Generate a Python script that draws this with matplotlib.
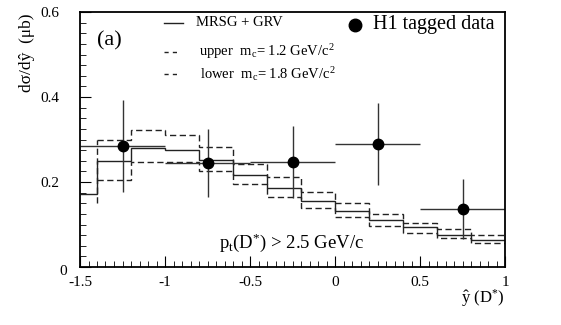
import numpy as np
import matplotlib
matplotlib.use("Agg")
import matplotlib.pyplot as plt
from matplotlib.ticker import MultipleLocator
from matplotlib.transforms import ScaledTranslation

plt.rcParams['font.family'] = ['Liberation Serif', 'DejaVu Serif']
plt.rcParams['mathtext.fontset'] = 'custom'
plt.rcParams['mathtext.rm'] = 'Liberation Serif'
plt.rcParams['mathtext.it'] = 'Liberation Serif:italic'
plt.rcParams['mathtext.bf'] = 'Liberation Serif:bold'

# ---- data ----
bin_edges = [-1.5, -1.4, -1.2, -1.0, -0.8, -0.6, -0.4, -0.2, 0.0, 0.2, 0.4, 0.6, 0.8, 1.0]
central = [0.172, 0.249, 0.281, 0.276, 0.251, 0.217, 0.186, 0.156, 0.132, 0.110, 0.093, 0.076, 0.063]

dash_edges = [-1.4, -1.2, -1.0, -0.8, -0.6, -0.4, -0.2, 0.0, 0.2, 0.4, 0.6, 0.8, 1.0]
upper = [0.300, 0.323, 0.310, 0.282, 0.243, 0.211, 0.177, 0.151, 0.125, 0.103, 0.089, 0.075]
lower = [0.204, 0.247, 0.247, 0.225, 0.196, 0.165, 0.140, 0.117, 0.096, 0.080, 0.068, 0.057]
lower_start = 0.150

data_x = [-1.25, -0.75, -0.25, 0.25, 0.75]
data_y = [0.285, 0.245, 0.247, 0.289, 0.137]
data_yerr = [0.108, 0.080, 0.084, 0.097, 0.070]
data_xerr = [0.25, 0.25, 0.25, 0.25, 0.25]

x_ticks = [-1.5, -1, -0.5, 0, 0.5, 1]
x_ticklabels = ['-1.5', '-1', '-0.5', '0', '0.5', '1']
y_ticks = [0, 0.2, 0.4, 0.6]
y_ticklabels = ['0', '0.2', '0.4', '0.6']

legend_labels = ["MRSG + GRV", r"upper  m$_{\rm c}$= 1.2 GeV/c$^{2}$",
                 r"lower  m$_{\rm c}$= 1.8 GeV/c$^{2}$", "H1 tagged data"]

# ---- figure ----
W, H = 561, 325
fig = plt.figure(figsize=(W / 100, H / 100), dpi=100)
ax = fig.add_axes([80 / W, 1 - 267 / H, 425 / W, 255 / H])

lc = '#222222'
dash = (0, (4.5, 2.5))
ax.stairs(central, bin_edges, color=lc, lw=1.0, baseline=None)
ax.stairs(upper, dash_edges, color=lc, lw=1.0, ls=dash, baseline=None)
ax.stairs(lower, dash_edges, color=lc, lw=1.0, ls=dash, baseline=None)
ax.vlines(dash_edges[0], lower_start, upper[0], color=lc, lw=1.0, ls=dash)

ax.errorbar(data_x, data_y, yerr=data_yerr, xerr=data_xerr, fmt='o', color='black',
            ecolor='#333333', elinewidth=1.0, capsize=0, markersize=7.5)

ax.set_xlim(-1.5, 1.0)
ax.set_ylim(0, 0.6)
ax.xaxis.set_minor_locator(MultipleLocator(0.05))
ax.yaxis.set_minor_locator(MultipleLocator(0.025))
ax.set_xticks(x_ticks)
ax.set_xticklabels(x_ticklabels)
ax.set_yticks(y_ticks)
ax.set_yticklabels(y_ticklabels)
ax.tick_params(which='both', direction='in', top=False, right=False, labelsize=11)
ax.tick_params(axis='x', which='major', pad=6.5)
ax.tick_params(axis='y', which='major', pad=15)
ax.tick_params(which='major', length=8, width=0.8)
ax.tick_params(which='minor', length=4, width=0.6)
for s in ax.spines.values():
    s.set_linewidth(1.3)

# shift the "0" y label like the reference
ylabs = ax.get_yticklabels()
ylabs[0].set_transform(ylabs[0].get_transform() + ScaledTranslation(8 / 100, -3 / 100, fig.dpi_scale_trans))

# legend (drawn by hand to match layout)
tr = ax.transAxes
def ax_pt(px, py):
    return ((px - 80) / 425, (267 - py) / 255)

x0, x1 = ax_pt(164, 0)[0], ax_pt(183, 0)[0]
y1 = ax_pt(0, 23)[1]
y2 = ax_pt(0, 52)[1]
y3 = ax_pt(0, 74)[1]
ax.plot([x0, x1], [y1, y1], transform=tr, color=lc, lw=1.0, clip_on=False)
ax.plot([x0, ax_pt(180, 0)[0]], [y2, y2], transform=tr, color=lc, lw=1.0, ls=(0, (3, 3)), clip_on=False)
ax.plot([x0, ax_pt(180, 0)[0]], [y3, y3], transform=tr, color=lc, lw=1.0, ls=(0, (3, 3)), clip_on=False)
ax.text(ax_pt(196, 0)[0], y1, legend_labels[0], transform=tr, fontsize=10.5, va='center', ha='left')
ax.text(ax_pt(199, 0)[0], y2, legend_labels[1], transform=tr, fontsize=10.5, va='center', ha='left')
ax.text(ax_pt(200, 0)[0], y3, legend_labels[2], transform=tr, fontsize=10.5, va='center', ha='left')
mx, my = ax_pt(355, 25)
ax.plot([mx], [my], 'o', transform=tr, color='black', markersize=9, clip_on=False)
ax.text(ax_pt(373, 0)[0], ax_pt(0, 24)[1], legend_labels[3], transform=tr, fontsize=14.5,
        va='center', ha='left')

px_, py_ = ax_pt(97, 41)
ax.text(px_, py_, "(a)", transform=tr, fontsize=16, va='center', ha='left')

cx, cy = ax_pt(292, 243)
ax.text(cx, cy, r"p$_{\rm t}$(D$^{*}$) > 2.5 GeV/c", transform=tr, fontsize=13.5,
        va='center', ha='center')

fig.text(27 / W, 1 - 13 / H, "dσ/dŷ  (μb)", rotation=90,
         fontsize=12.5, ha='center', va='top')
fig.text(504 / W, 1 - 298 / H, r"$\hat{\rm y}$ (D$^{*}$)", fontsize=12, ha='right', va='center')

fig.savefig("out.png", dpi=100)
